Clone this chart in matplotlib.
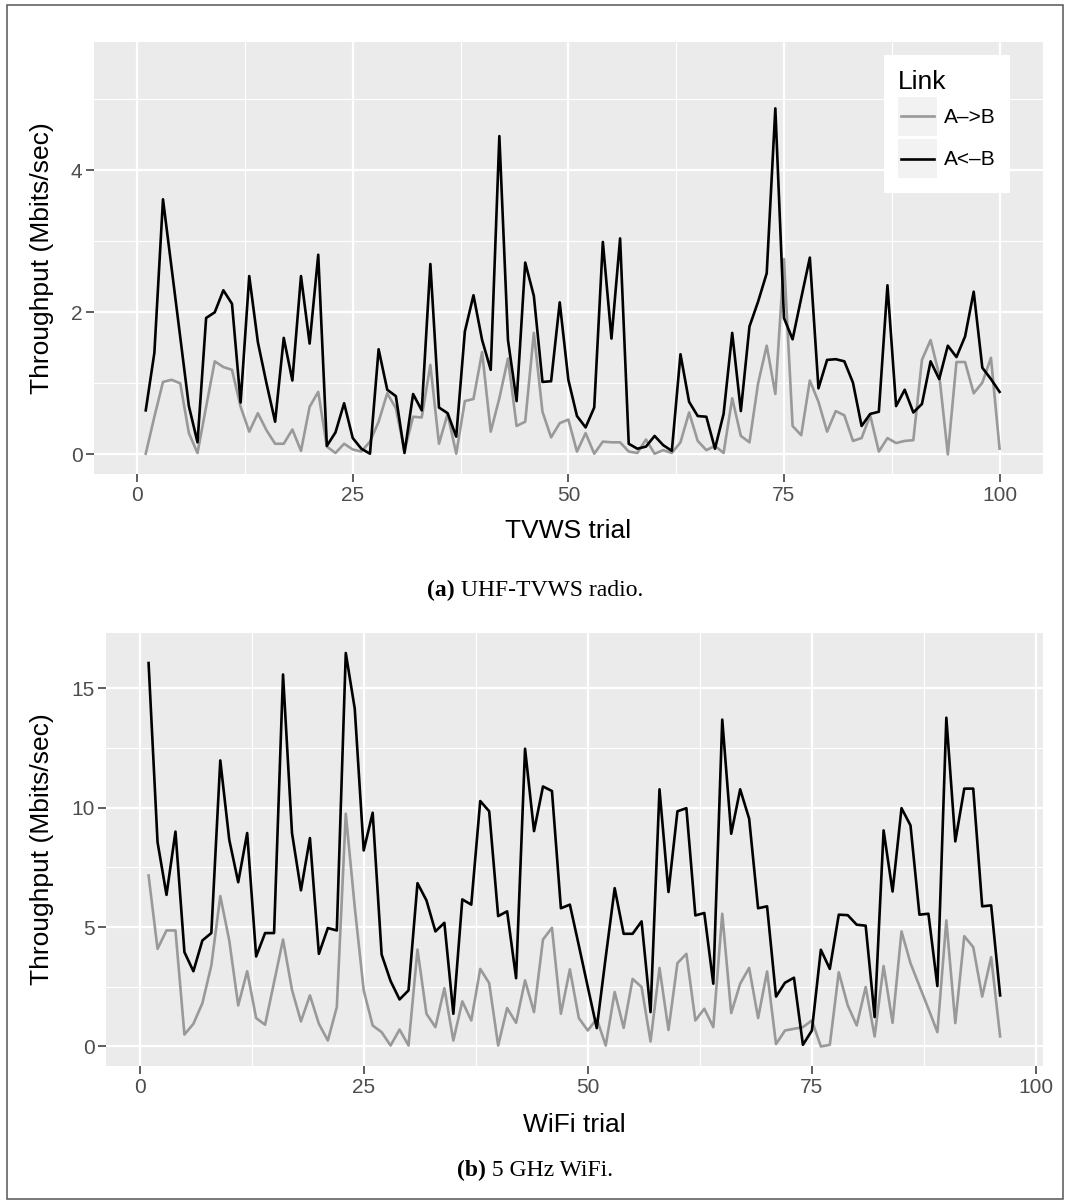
import numpy as np
import matplotlib
matplotlib.use("Agg")
import matplotlib.pyplot as plt
from matplotlib.ticker import MultipleLocator
from matplotlib.patches import Rectangle
from matplotlib.lines import Line2D
from matplotlib.legend_handler import HandlerBase

plt.rcParams['font.family'] = ['Liberation Sans', 'DejaVu Sans']

# ---- data ----
tvws_trial = np.arange(1, 101)
tvws_ab = [0.01, 0.53, 1.02, 1.05, 1.00, 0.30, 0.02, 0.67, 1.31, 1.23,
           1.19, 0.67, 0.32, 0.58, 0.34, 0.15, 0.15, 0.35, 0.05, 0.67,
           0.88, 0.11, 0.02, 0.15, 0.07, 0.04, 0.18, 0.46, 0.86, 0.65,
           0.05, 0.53, 0.52, 1.26, 0.15, 0.57, 0.01, 0.75, 0.78, 1.44,
           0.32, 0.79, 1.35, 0.40, 0.46, 1.71, 0.60, 0.24, 0.44, 0.49,
           0.04, 0.30, 0.01, 0.18, 0.17, 0.17, 0.04, 0.02, 0.21, 0.01,
           0.06, 0.02, 0.17, 0.59, 0.19, 0.06, 0.12, 0.02, 0.79, 0.26,
           0.17, 1.00, 1.53, 0.85, 2.75, 0.40, 0.27, 1.04, 0.74, 0.32,
           0.61, 0.55, 0.19, 0.23, 0.55, 0.04, 0.23, 0.16, 0.19, 0.20,
           1.33, 1.61, 1.12, 0.00, 1.30, 1.30, 0.86, 1.01, 1.36, 0.08]
tvws_ba = [0.62, 1.43, 3.59, 2.62, 1.65, 0.68, 0.17, 1.92, 2.00, 2.31,
           2.12, 0.73, 2.51, 1.58, 1.00, 0.46, 1.64, 1.04, 2.51, 1.56,
           2.81, 0.12, 0.31, 0.72, 0.23, 0.08, 0.01, 1.48, 0.91, 0.82,
           0.02, 0.85, 0.62, 2.68, 0.66, 0.58, 0.25, 1.73, 2.24, 1.61,
           1.19, 4.48, 1.61, 0.75, 2.70, 2.23, 1.02, 1.03, 2.14, 1.05,
           0.54, 0.38, 0.66, 2.99, 1.63, 3.04, 0.15, 0.08, 0.11, 0.26,
           0.13, 0.05, 1.41, 0.74, 0.54, 0.53, 0.08, 0.57, 1.71, 0.61,
           1.80, 2.15, 2.55, 4.87, 1.92, 1.62, 2.20, 2.77, 0.93, 1.33,
           1.34, 1.31, 1.01, 0.40, 0.57, 0.60, 2.38, 0.68, 0.91, 0.59,
           0.71, 1.31, 1.06, 1.53, 1.37, 1.66, 2.29, 1.22, 1.06, 0.88]

wifi_trial = np.arange(1, 97)
wifi_ab = [7.16, 4.09, 4.86, 4.86, 0.50, 0.95, 1.81, 3.39, 6.30, 4.44,
           1.72, 3.15, 1.19, 0.91, 2.69, 4.48, 2.37, 1.05, 2.14, 0.95,
           0.25, 1.65, 9.75, 5.84, 2.35, 0.88, 0.60, 0.04, 0.71, 0.04,
           4.06, 1.37, 0.81, 2.44, 0.25, 1.89, 1.09, 3.25, 2.65, 0.04,
           1.61, 0.99, 2.77, 1.44, 4.48, 4.97, 1.37, 3.23, 1.19, 0.67,
           1.16, 0.04, 2.28, 0.78, 2.83, 2.49, 0.21, 3.29, 0.69, 3.49,
           3.88, 1.09, 1.58, 0.81, 5.56, 1.40, 2.63, 3.29, 1.19, 3.14,
           0.10, 0.67, 0.74, 0.81, 1.09, 0.00, 0.07, 3.11, 1.72, 0.88,
           2.49, 0.42, 3.37, 0.99, 4.82, 3.49, 2.53, 1.58, 0.60, 5.28,
           0.98, 4.62, 4.16, 2.09, 3.74, 0.42]
wifi_ba = [16.06, 8.56, 6.35, 9.00, 3.95, 3.15, 4.44, 4.75, 11.98, 8.66,
           6.88, 8.94, 3.77, 4.75, 4.75, 15.58, 8.94, 6.54, 8.73, 3.88,
           4.96, 4.86, 16.48, 14.15, 8.21, 9.79, 3.85, 2.74, 1.97, 2.35,
           6.84, 6.12, 4.82, 5.18, 1.37, 6.16, 5.94, 10.28, 9.85, 5.46,
           5.66, 2.86, 12.47, 9.02, 10.89, 10.70, 5.79, 5.94, 4.23, 2.49,
           0.77, 3.74, 6.63, 4.72, 4.72, 5.24, 1.44, 10.77, 6.47, 9.85,
           9.98, 5.49, 5.59, 2.63, 13.69, 8.91, 10.77, 9.54, 5.79, 5.87,
           2.09, 2.67, 2.88, 0.07, 0.67, 4.05, 3.25, 5.52, 5.50, 5.10,
           5.06, 1.23, 9.05, 6.49, 9.98, 9.26, 5.52, 5.56, 2.53, 13.77,
           8.59, 10.80, 10.80, 5.87, 5.91, 2.14]

link_labels = ["A\u2013>B", "A<\u2013B"]
link_colors = ["#999999", "#000000"]

W, H = 1065, 1203
fig = plt.figure(figsize=(W / 100, H / 100), dpi=100)


class KeyHandler(HandlerBase):
    # ggplot-style legend key: light square with the line across its middle
    def create_artists(self, legend, orig_handle, xdescent, ydescent,
                       width, height, fontsize, trans):
        cy = height / 2 - ydescent
        box = Rectangle((-xdescent, -ydescent), width, height,
                        facecolor="#F2F2F2", edgecolor="none", transform=trans)
        ln = Line2D([-xdescent + 0.08 * width, -xdescent + 0.92 * width], [cy, cy],
                    color=orig_handle.get_color(), lw=orig_handle.get_linewidth(),
                    transform=trans)
        return [box, ln]


def px_axes(left, top, right, bottom):
    return fig.add_axes([left / W, 1 - bottom / H, (right - left) / W, (bottom - top) / H])


def style_axes(ax, ymajor, xlabel, xlab_y, ylab_x):
    ax.set_facecolor("#EBEBEB")
    for s in ax.spines.values():
        s.set_visible(False)
    ax.xaxis.set_major_locator(MultipleLocator(25))
    ax.xaxis.set_minor_locator(MultipleLocator(12.5))
    ax.yaxis.set_major_locator(MultipleLocator(ymajor))
    ax.yaxis.set_minor_locator(MultipleLocator(ymajor / 2))
    ax.grid(which="major", color="white", lw=1.6)
    ax.grid(which="minor", color="white", lw=0.8)
    ax.set_axisbelow(True)
    ax.tick_params(which="major", length=5.8, width=1.1, color="#333333",
                   labelcolor="#4D4D4D", labelsize=15, pad=2.5)
    ax.tick_params(which="minor", length=0)
    ax.set_xlabel(xlabel, fontsize=19, va="center")
    ax.xaxis.set_label_coords(0.5, xlab_y)
    ax.set_ylabel("Throughput (Mbits/sec)", fontsize=19, va="center")
    ax.yaxis.set_label_coords(ylab_x, 0.5)


# ---- (a) TVWS ----
ax1 = px_axes(94, 42.3, 1042.7, 474.3)
l_ab, = ax1.plot(tvws_trial, tvws_ab, color=link_colors[0], lw=1.9)
l_ba, = ax1.plot(tvws_trial, tvws_ba, color=link_colors[1], lw=1.9)
ax1.set_xlim(-5, 105)
ax1.set_ylim(-0.28, 5.8)
style_axes(ax1, 2, "TVWS trial", -0.131, (42 - 94) / 948.7)

leg = ax1.legend([l_ab, l_ba], link_labels, title="Link",
                 handler_map={Line2D: KeyHandler()},
                 loc="upper right", bbox_to_anchor=(0.966, 0.97),
                 fontsize=15, title_fontsize=19, frameon=True, fancybox=False,
                 edgecolor="none", facecolor="white", framealpha=1,
                 handlelength=1.87, handleheight=2.5, handletextpad=0.33,
                 labelspacing=0.15, borderpad=0.7, borderaxespad=0)
leg._legend_box.align = "left"

# ---- (b) WiFi ----
ax2 = px_axes(106, 632.7, 1042.7, 1066.3)
ax2.plot(wifi_trial, wifi_ab, color=link_colors[0], lw=1.9)
ax2.plot(wifi_trial, wifi_ba, color=link_colors[1], lw=1.9)
ax2.set_xlim(-3.75, 100.75)
ax2.set_ylim(-0.83, 17.33)
style_axes(ax2, 5, "WiFi trial", -(1125 - 1066.3) / 433.6, (42 - 106) / 936.7)

# ---- captions ----
fig.canvas.draw()
renderer = fig.canvas.get_renderer()


def caption(y_px, tag, rest):
    kw = dict(family="Liberation Serif", fontsize=17, va="center")
    t1 = fig.text(0, 1 - y_px / H, tag, weight="bold", **kw)
    t2 = fig.text(0, 1 - y_px / H, rest, **kw)
    w1 = t1.get_window_extent(renderer).width
    w2 = t2.get_window_extent(renderer).width
    x0 = (W * 0.5025 - (w1 + w2) / 2)
    t1.set_x(x0 / W)
    t2.set_x((x0 + w1) / W)


caption(590, "(a)", " UHF-TVWS radio.")
caption(1170, "(b)", " 5 GHz WiFi.")

fig.patches.append(Rectangle((7 / W, 1 - 1199 / H), (1063.3 - 7) / W, (1199 - 4.7) / H,
                             transform=fig.transFigure, fill=False,
                             edgecolor="#555555", lw=1.1))

fig.savefig("out.png", dpi=100)
